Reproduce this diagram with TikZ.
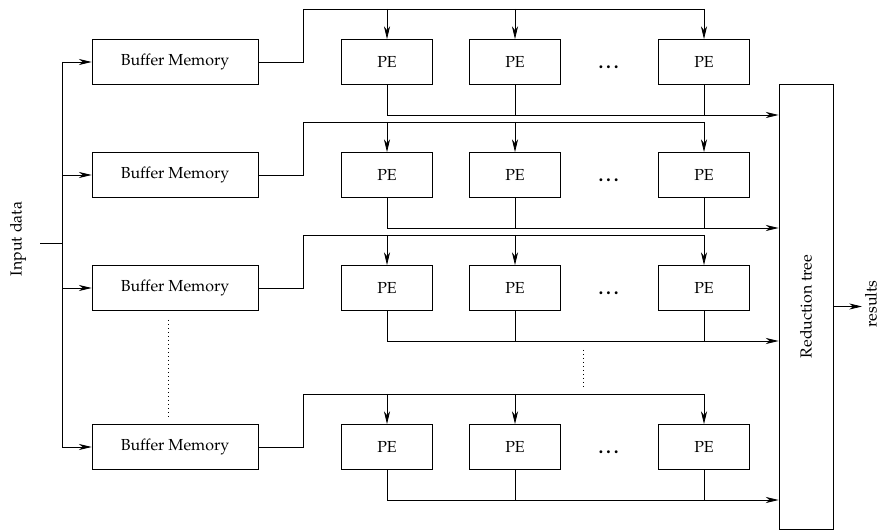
\documentclass[tikz,border=0pt]{standalone}
\usepackage[T1]{fontenc}
\usepackage{mathpazo}
\usetikzlibrary{arrows.meta}

\tikzset{
  bufbox/.style={draw, minimum width=3.65cm, minimum height=0.99cm, inner sep=0pt},
  pebox/.style={draw, minimum width=2cm, minimum height=0.99cm, inner sep=0pt},
  treebox/.style={draw, rotate=90, minimum width=9.79cm, minimum height=1.19cm, inner sep=0pt},
  >={Stealth[length=8pt,width=3.8pt,inset=2.4pt]}
}

\begin{document}
\begin{tikzpicture}[x=0.022cm,y=-0.022cm,line width=0.5pt]
\useasboundingbox (0,0) rectangle (879,531);

% Reduction tree and results
\node[treebox] (rt) at (806,306.5) {Reduction tree};
\node[rotate=90,inner sep=1pt] (res) at (871,304) {results};
\coordinate (resend) at (862,306.5);
\draw[->] (rt.south) -- (resend);

% Input data
\node[rotate=90] (inp) at (18,239) {Input data};
\coordinate (inend) at (40,243);
\coordinate (bus) at (62,243);
\draw (inend) -- (bus);

% Rows of buffers and PEs
\foreach \r/\y in {1/62,2/175,3/288,4/447}{
  \node[bufbox] (b\r) at (175,\y) {Buffer Memory};
  \foreach \c/\x in {1/387,2/515,3/704}
    \node[pebox] (p\r\c) at (\x,\y) {PE};
  \node[font=\large\bfseries] (dots\r) at (610,\y+5) {\ldots};
  \coordinate (up\r) at (303,\y-53);
  \coordinate (down\r) at (rt.north |- 0,\y+53);
  % buffer to PEs
  \draw[->] (bus |- b\r.west) -- (b\r.west);
  \draw (b\r.east) -- (up\r |- b\r.east) -- (up\r) -- (p\r3.north |- up\r);
  \foreach \c in {1,2,3}
    \draw[->] (p\r\c.north |- up\r) -- (p\r\c.north);
  % PEs to reduction tree
  \draw[->] (p\r1.south) -- (p\r1.south |- down\r) -- (down\r);
  \foreach \c in {2,3}
    \draw (p\r\c.south) -- (p\r\c.south |- down\r);
}
\draw (bus |- b1.west) -- (bus |- b4.west);

% Vertical ellipses
\draw[dotted] (168,320) -- (168,417);
\draw[dotted] (583,350) -- (583,387);

\end{tikzpicture}
\end{document}
